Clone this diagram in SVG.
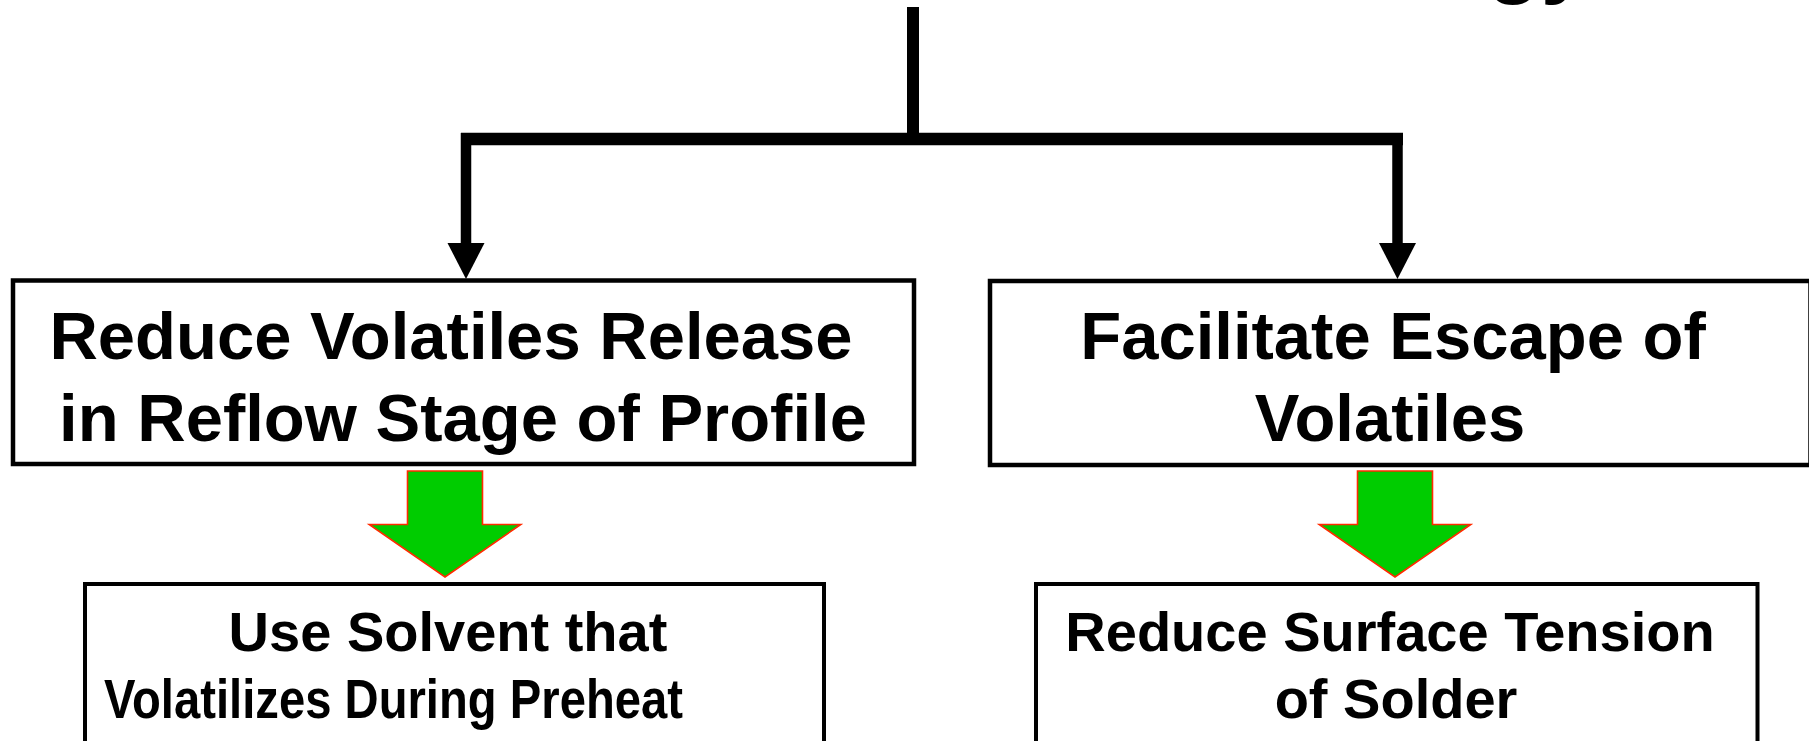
<svg xmlns="http://www.w3.org/2000/svg" width="1809" height="741" viewBox="0 0 1809 741">
  <style>
    text { font-family: "Liberation Sans", Arial, Helvetica, sans-serif; font-weight: bold; fill: #000; }
    .big { font-size: 67px; text-anchor: middle; }
    .mid { font-size: 56px; text-anchor: middle; }
    .box { fill: #fff; stroke: #000; stroke-width: 4.5; }
    .sub { fill: #fff; stroke: #000; stroke-width: 4; }
    .wire { stroke: #000; fill: none; stroke-linecap: butt; }
    .green { fill: #00cc00; stroke: #ff2a00; stroke-width: 1.6; stroke-linejoin: miter; }
  </style>
  <defs>
    <!-- solid triangular head at the end of each branch -->
    <marker id="tip" markerUnits="userSpaceOnUse" markerWidth="40" markerHeight="40" refX="0" refY="18.5" orient="auto" overflow="visible">
      <path d="M0,0 L36,18.5 L0,37 Z" fill="#000"/>
    </marker>
    <!-- block arrow pointing down, origin at top centre of the shaft -->
    <path id="blockArrow" d="M-37.5,0 H37.5 V53.5 H75.75 L0,106 L-75.75,53.5 H-37.5 Z"/>
  </defs>

  <rect width="1809" height="741" fill="#fff"/>

  <!-- heading, mostly above the page edge -->
  <text id="heading" x="1487" y="-13" style="font-size:88px">gy</text>

  <g id="connectors">
    <line class="wire" x1="913" y1="7" x2="913" y2="136" stroke-width="12"/>
    <line class="wire" x1="461" y1="139" x2="973" y2="139" stroke-width="12.5"/>
    <line class="wire" x1="973" y1="139" x2="1403" y2="139" stroke-width="12.5"/>
    <line class="wire" x1="466" y1="133" x2="466" y2="243" stroke-width="10.5" marker-end="url(#tip)"/>
    <line class="wire" x1="1397.5" y1="133" x2="1397.5" y2="243" stroke-width="10.5" marker-end="url(#tip)"/>
    <use href="#blockArrow" class="green" transform="translate(445,471)"/>
    <use href="#blockArrow" class="green" transform="translate(1395,471)"/>
  </g>

  <g id="reduce-release">
    <rect class="box" x="13" y="280.5" width="901" height="183.5"/>
    <text class="big" x="451" y="358.5">Reduce Volatiles Release</text>
    <text class="big" x="463" y="440.5">in Reflow Stage of Profile</text>
  </g>

  <g id="facilitate-escape">
    <rect class="box" x="990" y="281" width="820.5" height="184"/>
    <text class="big" x="1393" y="358.5">Facilitate Escape of</text>
    <text class="big" x="1390" y="440.5">Volatiles</text>
  </g>

  <g id="use-solvent">
    <rect class="sub" x="85" y="584" width="739" height="200"/>
    <text class="mid" x="448" y="650.7">Use Solvent that</text>
    <text x="104" y="718.3" style="font-size:56px" textLength="579" lengthAdjust="spacingAndGlyphs">Volatilizes During Preheat</text>
  </g>

  <g id="surface-tension">
    <rect class="sub" x="1036" y="584" width="721.5" height="200"/>
    <text class="mid" x="1390" y="650.7">Reduce Surface Tension</text>
    <text class="mid" x="1396" y="718.3">of Solder</text>
  </g>
</svg>
